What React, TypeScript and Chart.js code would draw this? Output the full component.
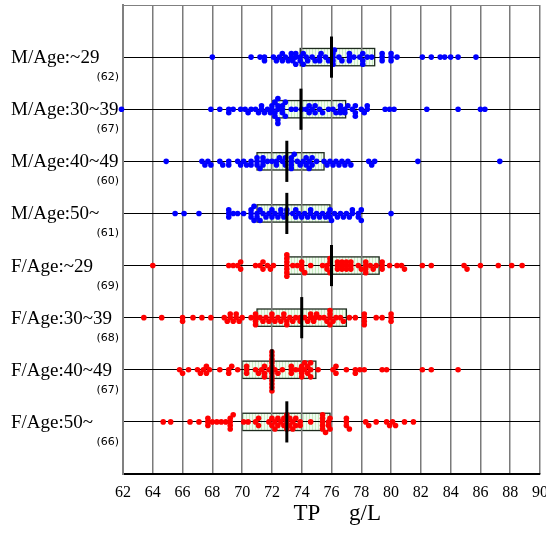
import { useEffect, useRef } from "react";
import { Chart, registerables } from "chart.js";

Chart.register(...registerables);

// ---- data ----
const categories = [
  "M/Age:~29",
  "M/Age:30~39",
  "M/Age:40~49",
  "M/Age:50~",
  "F/Age:~29",
  "F/Age:30~39",
  "F/Age:40~49",
  "F/Age:50~",
];
const groupSizes = ["(62)", "(67)", "(60)", "(61)", "(69)", "(68)", "(67)", "(66)"];
const boxQ1 = [73.9, 72.0, 71.0, 71.0, 73.0, 71.0, 70.0, 70.0];
const boxMedian = [76.0, 73.95, 73.0, 73.0, 76.0, 74.0, 72.0, 73.0];
const boxQ3 = [78.9, 76.95, 75.5, 75.9, 79.2, 77.0, 74.95, 75.9];
const xTicks = [62, 64, 66, 68, 70, 72, 74, 76, 78, 80, 82, 84, 86, 88, 90];
const maleColor = "#0000ff";
const femaleColor = "#ff0000";

const m29 = [68.0, 70.6, 71.2, 71.5, 71.5, 72.1, 72.3, 72.5, 72.7, 72.7, 72.9, 73.1, 73.3, 73.3, 73.4, 73.6, 73.6, 73.6, 73.9, 73.9, 74.1, 74.1, 74.3, 74.4, 74.7, 74.9, 75.2, 75.2, 75.3, 75.6, 75.8, 76.1, 76.1, 76.1, 76.1, 76.2, 76.5, 76.7, 77.2, 77.2, 77.2, 77.5, 77.9, 78.1, 78.1, 78.1, 78.4, 78.7, 79.4, 79.4, 79.4, 80.0, 80.0, 80.0, 80.4, 82.1, 82.7, 83.3, 83.6, 84.0, 84.5, 85.7];
const m30 = [61.9, 67.9, 68.5, 69.1, 69.1, 69.4, 69.9, 70.2, 70.4, 70.6, 70.9, 71.1, 71.3, 71.3, 71.5, 71.7, 71.9,
  72.0, 72.0, 72.2, 72.2, 72.2, 72.4, 72.4, 72.4, 72.4, 72.4, 72.7, 72.7, 72.7, 72.9, 72.9, 73.3, 73.6,
  74.0, 74.3, 74.5, 74.5, 74.7, 74.9, 74.9, 75.2, 75.4, 75.8, 76.1, 76.3, 76.6, 76.6, 76.6, 76.9, 76.9,
  77.1, 77.4, 77.6, 77.6, 77.6, 78.0, 78.2, 78.4, 78.4, 79.6, 79.9, 80.2, 82.4, 84.5, 86.0, 86.3];
const m40 = [64.9, 67.3, 67.5, 67.7, 67.9, 68.5, 68.7, 69.1, 69.1, 69.7, 69.9, 70.1, 70.3, 70.6, 70.6,
  71.0, 71.0, 71.0, 71.2, 71.4, 71.4, 71.4, 71.7, 72.0, 72.3, 72.3, 72.5, 72.7, 72.9, 72.9,
  73.3, 73.3, 73.3, 73.3, 73.5, 73.7, 73.9, 74.1, 74.3, 74.3, 74.5, 74.5, 74.7, 74.7, 75.0,
  75.5, 75.7, 75.9, 76.1, 76.3, 76.5, 76.7, 76.9, 77.1, 77.3, 78.5, 78.7, 78.9, 81.8, 87.3];
const m50 = [65.5, 66.1, 67.1, 69.1, 69.1, 69.1, 69.4, 69.7, 70.1, 70.6, 70.6, 70.6, 70.8, 70.8, 71.0, 71.0,
  71.2, 71.2, 71.4, 71.6, 71.8, 72.0, 72.0, 72.2, 72.4, 72.6, 72.6, 72.8, 73.0, 73.0,
  73.4, 73.6, 73.6, 73.8, 74.0, 74.2, 74.4, 74.6, 74.6, 74.8, 75.0, 75.2, 75.4, 75.6, 75.8, 75.9, 75.9,
  76.0, 76.2, 76.4, 76.6, 76.8, 77.0, 77.2, 77.4, 77.4, 77.8, 77.8, 78.0, 78.0, 80.0];
const f29 = [64.0, 69.1, 69.4, 69.7, 69.9, 69.9, 70.9, 71.2, 71.4, 71.4, 71.7, 71.9, 72.1,
  73.0, 73.0, 73.0, 73.0, 73.0, 73.0, 73.0, 73.4, 73.7, 74.0, 74.0, 74.0, 74.2, 74.6,
  75.4, 75.7, 75.7, 75.9, 75.9, 75.9, 76.4, 76.4, 76.4, 76.7, 76.7, 76.7, 77.0, 77.0, 77.0, 77.3, 77.3, 77.3,
  77.8, 78.0, 78.3, 78.3, 78.3, 78.3, 78.6, 78.8, 79.0, 79.4, 79.4, 79.4,
  79.9, 80.4, 80.7, 80.9, 82.1, 82.7, 84.9, 85.1, 86.0, 87.2, 88.1, 88.8];
const f30 = [63.4, 64.6, 66.0, 66.0, 66.7, 67.3, 67.9, 68.8, 69.0, 69.2, 69.2, 69.4, 69.6, 69.6, 69.8, 70.0, 70.6, 70.9, 70.9, 70.9, 70.9,
  71.2, 71.4, 71.6, 71.8, 72.0, 72.0, 72.2, 72.4, 72.6, 72.8, 72.8, 73.0, 73.0, 73.2, 73.4, 73.6, 73.9, 73.9,
  74.2, 74.4, 74.6, 74.6, 74.8, 74.9, 75.0, 75.2, 75.5, 75.7, 75.9, 75.9, 75.9, 75.9, 76.1, 76.3, 76.6, 76.8,
  77.2, 77.6, 78.2, 78.2, 78.2, 78.2, 79.0, 79.4, 80.0, 80.0, 80.0];
const f40 = [65.8, 66.0, 66.4, 67.0, 67.2, 67.4, 67.6, 67.6, 67.8, 68.5, 69.1, 69.1, 69.3, 69.7, 70.3, 70.3, 70.3,
  70.9, 71.1, 71.3, 71.5, 71.5, 71.5, 71.8, 72.0, 72.0, 72.0, 72.0, 72.0, 72.0, 72.0, 72.0, 72.0, 72.0, 72.0, 72.2, 72.4, 72.7,
  73.3, 73.3, 73.3, 73.6, 73.9, 74.0, 74.0, 74.0, 74.2, 74.2, 74.4, 74.4, 74.6, 74.6, 74.6, 75.1,
  76.1, 76.3, 76.3, 77.0, 77.6, 77.6, 77.9, 78.2, 79.4, 79.7, 82.1, 82.7, 84.5];
const f50 = [64.7, 65.2, 66.5, 67.1, 67.7, 67.7, 67.7, 68.0, 68.3, 68.6, 68.9, 69.2, 69.2, 69.2, 69.2, 69.4,
  70.1, 70.4, 70.9, 71.1, 71.1, 71.8, 72.0, 72.0, 72.2, 72.2, 72.4, 72.4, 72.6, 72.8, 72.8, 73.0, 73.0, 73.0,
  73.2, 73.2, 73.4, 73.4, 73.6, 73.6, 73.9, 73.9, 74.6, 75.4, 75.4, 75.4, 75.4, 75.4, 75.6, 75.8, 75.8,
  75.9, 75.9, 77.0, 77.0, 77.0, 77.2, 78.3, 78.5, 79.0, 79.7, 79.9, 80.1, 80.3, 80.9, 81.5];

const series = [m29, m30, m40, m50, f29, f30, f40, f50];
const seriesColors = [maleColor, maleColor, maleColor, maleColor, femaleColor, femaleColor, femaleColor, femaleColor];

// ---- style constants ----
const DOT_STEP = 0.068; // vertical spacing of stacked dots (row units)
const MIN_DX = 0.25; // dots closer than this on one level get stacked
const BOX_HALF = 0.166;
const MEDIAN_HALF = 0.395;

function swarmPoints(values: number[], row: number) {
  const placed: { x: number; level: number }[] = [];
  return values.map((v) => {
    let level = 0;
    for (let k = 0; k < 40; k++) {
      const s = k === 0 ? 0 : k % 2 === 1 ? (k + 1) / 2 : -k / 2;
      if (!placed.some((p) => p.level === s && Math.abs(p.x - v) < MIN_DX)) {
        level = s;
        break;
      }
    }
    placed.push({ x: v, level });
    return { x: v, y: row + level * DOT_STEP };
  });
}

function makePattern(ctx: CanvasRenderingContext2D) {
  const c = document.createElement("canvas");
  c.width = 3;
  c.height = 1;
  const p = c.getContext("2d")!;
  p.fillStyle = "#f1fbef";
  p.fillRect(0, 0, 3, 1);
  p.fillStyle = "#c9edc4";
  p.fillRect(0, 0, 1, 1);
  return ctx.createPattern(c, "repeat");
}

const boxPlugin = {
  id: "boxDecor",
  beforeDraw(chart: any) {
    const { ctx, scales } = chart;
    const x = scales.x;
    const y = scales.y;
    const pat = makePattern(ctx);
    ctx.save();
    for (let i = 0; i < categories.length; i++) {
      const l = x.getPixelForValue(boxQ1[i]);
      const r = x.getPixelForValue(boxQ3[i]);
      const t = y.getPixelForValue(i + 1 - BOX_HALF);
      const b = y.getPixelForValue(i + 1 + BOX_HALF);
      ctx.fillStyle = pat || "#e4f6e0";
      ctx.fillRect(l, t, r - l, b - t);
      ctx.strokeStyle = "#1e2a1e";
      ctx.lineWidth = 1.3;
      ctx.strokeRect(l, t, r - l, b - t);
    }
    ctx.restore();
  },
  afterDatasetsDraw(chart: any) {
    const { ctx, scales } = chart;
    const x = scales.x;
    const y = scales.y;
    ctx.save();
    ctx.strokeStyle = "#000";
    ctx.lineWidth = 3;
    for (let i = 0; i < categories.length; i++) {
      const px = x.getPixelForValue(boxMedian[i]);
      ctx.beginPath();
      ctx.moveTo(px, y.getPixelForValue(i + 1 - MEDIAN_HALF));
      ctx.lineTo(px, y.getPixelForValue(i + 1 + MEDIAN_HALF));
      ctx.stroke();
    }
    ctx.restore();
  },
  afterDraw(chart: any) {
    const { ctx, scales } = chart;
    const y = scales.y;
    ctx.save();
    ctx.fillStyle = "#000";
    ctx.textBaseline = "alphabetic";
    for (let i = 0; i < categories.length; i++) {
      const py = y.getPixelForValue(i + 1);
      ctx.font = '19px "Liberation Serif"';
      ctx.textAlign = "left";
      ctx.fillText(categories[i], 11, py + 6);
      ctx.font = '11px "DejaVu Sans"';
      ctx.textAlign = "right";
      ctx.fillText(groupSizes[i], 119, py + 23);
    }
    ctx.restore();
  },
};

export default function App() {
  const ref = useRef<HTMLCanvasElement | null>(null);
  useEffect(() => {
    if (!ref.current) return;
    const chart = new Chart(ref.current, {
      type: "scatter",
      data: {
        datasets: series.map((vals, i) => ({
          label: categories[i],
          data: swarmPoints(vals, i + 1),
          backgroundColor: seriesColors[i],
          borderWidth: 0,
          pointRadius: 2.8,
          pointHoverRadius: 2.8,
          clip: false as any,
        })),
      },
      options: {
        responsive: false,
        animation: false,
        events: [],
        layout: { padding: { left: 123, right: 6, top: 5, bottom: 0 } },
        plugins: { legend: { display: false }, tooltip: { enabled: false } },
        scales: {
          x: {
            type: "linear",
            min: 62,
            max: 90,
            afterBuildTicks: (s: any) => {
              s.ticks = xTicks.map((v) => ({ value: v }));
            },
            afterFit: (s: any) => {
              s.height = 63;
              s.paddingLeft = 0;
              s.paddingRight = 0;
            },
            ticks: {
              font: { family: "Liberation Serif", size: 16 },
              color: "#000",
              padding: 9,
              maxRotation: 0,
              autoSkip: false,
            },
            grid: { color: "#7a7a7a", lineWidth: 1.5, drawTicks: false },
            border: { color: "#000", width: 1.5 },
            title: {
              display: true,
              text: "  TP     g/L",
              font: { family: "Liberation Serif", size: 23 },
              color: "#000",
              padding: { top: 0, bottom: 9 },
            },
          },
          y: {
            type: "linear",
            min: 0,
            max: 9,
            reverse: true,
            afterFit: (s: any) => {
              s.width = 0;
            },
            ticks: { display: false, stepSize: 1 },
            grid: {
              color: (c: any) => (c.tick && c.tick.value === 0 ? "#808080" : "#000"),
              lineWidth: 1,
              drawTicks: false,
            },
            border: { color: "#808080", width: 2 },
          },
        },
      },
      plugins: [boxPlugin],
    } as any);
    return () => chart.destroy();
  }, []);
  return (
    <div style={{ position: "fixed", left: 0, top: 0, width: 546, height: 537, background: "#fff" }}>
      <canvas ref={ref} width={546} height={537} style={{ display: "block", width: 546, height: 537 }} />
    </div>
  );
}
